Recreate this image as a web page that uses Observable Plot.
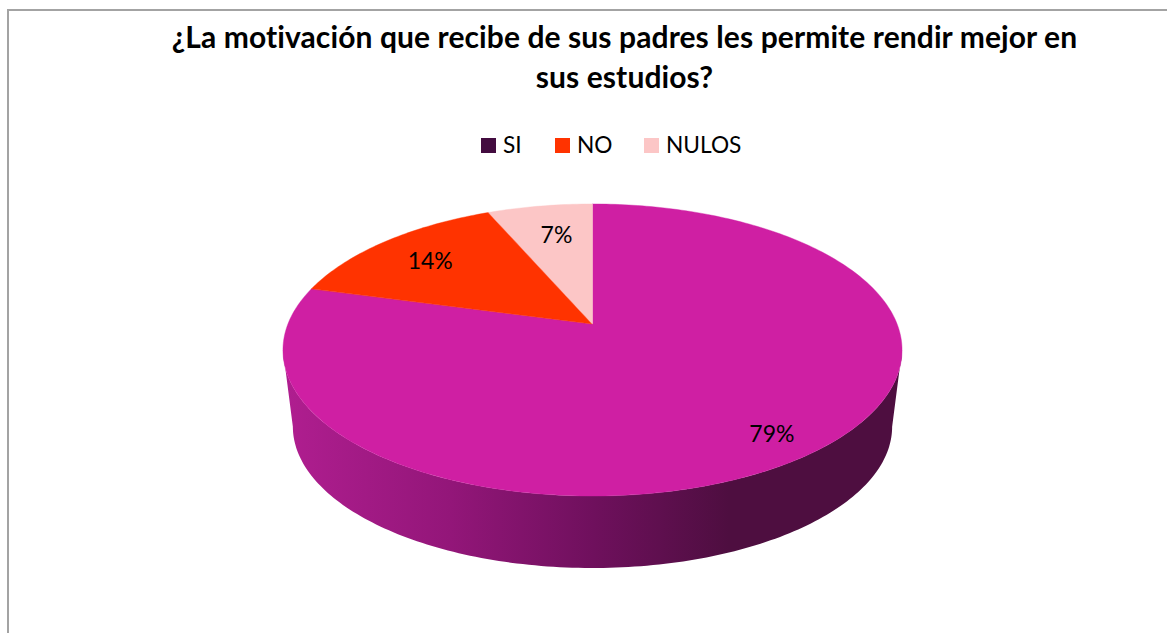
<!DOCTYPE html>
<html>
<head>
<meta charset="utf-8">
<script src="https://cdn.jsdelivr.net/npm/d3@7"></script>
<script src="https://cdn.jsdelivr.net/npm/@observablehq/plot@0.6"></script>
<style>
html,body{margin:0;padding:0;background:#fff;width:1167px;height:633px;overflow:hidden;font-family:Lato,"Open Sans",sans-serif;color:#000}
#frame{position:absolute;left:7px;top:9px;width:1160px;height:624px;border-top:2px solid #a3a3a3;border-left:2px solid #a3a3a3;box-sizing:border-box}
#title{position:absolute;left:0;width:1249px;top:16px;text-align:center;font-weight:700;font-size:30px;line-height:40px;letter-spacing:0.1px;white-space:nowrap}
#legend{position:absolute;top:130px;left:0;height:30px;font-size:22.7px;line-height:30px}
#legend span{position:absolute;white-space:nowrap}
#legend i{position:absolute;top:8px;width:15px;height:15px;display:block}
#chart{position:absolute;left:0;top:170px}
</style>
</head>
<body>
<div id="frame"></div>
<div id="title">¿La motivación que recibe de sus padres les permite rendir mejor en<br>sus estudios?</div>
<div id="legend"></div>
<div id="chart"></div>
<script>
// Data
const categories = ["SI", "NO", "NULOS"];
const shares = [79.2, 14.3, 6.5];          // slice sizes, clockwise from 12 o'clock
const labels = ["79%", "14%", "7%"];
const sliceColors = ["#CF1FA3", "#FF3300", "#FCC6C6"];
const legendColors = ["#430C40", "#FF3300", "#FCC6C6"];
const labelRadius = [0.85, 0.77, 0.74];
const labelNudge = [0, 0, 0.013];
const legendSwatchLeft = [481, 555, 644];

// Projection of the tilted disc
const persp = 0.178, bottomScale = 0.968, bottomDrop = 0.548;
const W = 1167, H = 463, top0 = 170;
const cx = 592.5, cy = 324, Rx = 304.6, Ry = 141.4;
const project = (deg, f = 1) => {
  const a = deg * Math.PI / 180, u = f * Math.sin(a), v = f * Math.cos(a), w = 1 + persp * v;
  return [u / w, v / w];
};

// Slices
const total = d3.sum(shares);
let acc = 0;
const slices = categories.map((name, i) => {
  const start = acc / total * 360; acc += shares[i];
  const end = acc / total * 360;
  const pts = d3.range(start, end, 1).concat(end).map(d => {
    const [x, y] = project(d);
    return {x1: 0, y1: 0, x2: x, y2: y};
  });
  const [lx, ly] = project((start + end) / 2, labelRadius[i]);
  return {name, pts, color: sliceColors[i], label: labels[i], lx: lx + labelNudge[i], ly};
});

// Side wall: the rim between the two silhouette tangents, from top plane to bottom plane
const tangent = Math.acos(-persp) * 180 / Math.PI;
const wall = d3.range(tangent, 360 - tangent, 1).concat(360 - tangent).map(d => {
  const [x, y] = project(d);
  return {x1: x, y1: y, x2: x * bottomScale, y2: y * bottomScale - bottomDrop};
});

const defs = () => {
  const s = d3.create("svg:defs");
  const g = s.append("linearGradient").attr("id", "wallGrad").attr("x1", 0).attr("x2", 1).attr("y1", 0).attr("y2", 0);
  [[0, "#B01E90"], [0.27, "#931679"], [0.5, "#6F105D"], [0.72, "#4E0E40"], [1, "#4E0E40"]]
    .forEach(([o, c]) => g.append("stop").attr("offset", o).attr("stop-color", c));
  return s.node();
};

const plot = Plot.plot({
  width: W, height: H,
  marginTop: 0, marginRight: 0, marginBottom: 0, marginLeft: 0,
  style: {background: "transparent", overflow: "visible"},
  x: {axis: null, domain: [-1, 1], range: [cx - Rx, cx + Rx]},
  y: {axis: null, domain: [-1, 1], range: [cy + Ry - top0, cy - Ry - top0]},
  marks: [
    defs,
    Plot.area(wall, {x1: "x1", y1: "y1", x2: "x2", y2: "y2", fill: "url(#wallGrad)"}),
    ...slices.map(s => Plot.area(s.pts, {x1: "x1", y1: "y1", x2: "x2", y2: "y2", fill: s.color, stroke: s.color, strokeWidth: 0.4})),
    Plot.text(slices, {x: "lx", y: "ly", dy: 2, text: "label", fontSize: 23, fill: "#000", fontFamily: "Lato"})
  ]
});
document.getElementById("chart").append(plot);

// Legend
const legend = d3.select("#legend");
categories.forEach((c, i) => {
  const x = legendSwatchLeft[i];
  legend.append("i").style("left", x + "px").style("background", legendColors[i]);
  legend.append("span").style("left", (x + 22) + "px").text(c);
});
</script>
</body>
</html>
